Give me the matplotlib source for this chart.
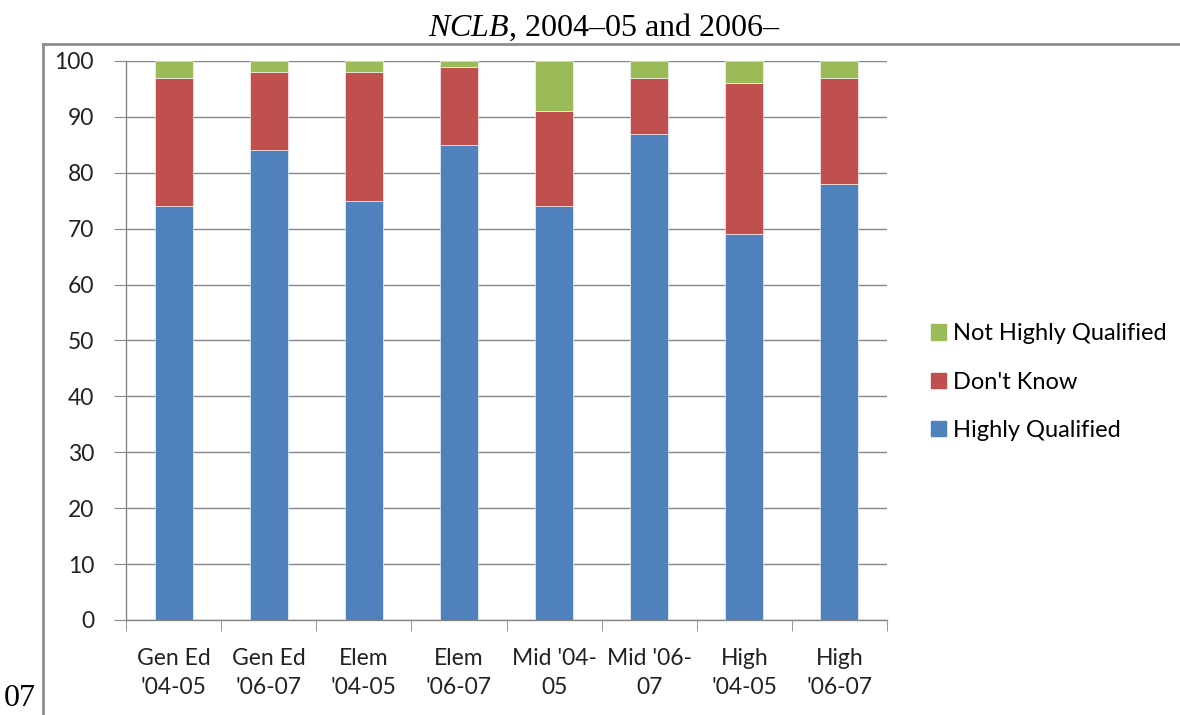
import numpy as np
import matplotlib.pyplot as plt
from matplotlib.lines import Line2D
from matplotlib.patches import Patch

# ================== DATA ==================
categories = ["Gen Ed\n'04-05", "Gen Ed\n'06-07", "Elem\n'04-05", "Elem\n'06-07",
              "Mid '04-\n05", "Mid '06-\n07", "High\n'04-05", "High\n'06-07"]
highly_qualified = [74, 84, 75, 85, 74, 87, 69, 78]
dont_know = [23, 14, 23, 14, 17, 10, 27, 19]
not_highly_qualified = [3, 2, 2, 1, 9, 3, 4, 3]

c_blue = '#4F81BD'
c_red = '#C0504D'
c_green = '#9BBB59'
grid_c = '#868686'

plt.rcParams['font.family'] = ['Lato', 'DejaVu Sans']
plt.rcParams['mathtext.fontset'] = 'custom'
plt.rcParams['mathtext.it'] = 'Liberation Serif:italic'
plt.rcParams['mathtext.rm'] = 'Liberation Serif'

W, H = 1180, 715
fig = plt.figure(figsize=(W / 100, H / 100), dpi=100)

# plot area in pixels: x 126..887, y 61..620
ax = fig.add_axes([126 / W, 1 - 620 / H, (887 - 126) / W, (620 - 61) / H])

x = np.arange(len(categories))
hq = np.array(highly_qualified)
dk = np.array(dont_know)
nq = np.array(not_highly_qualified)
bw = 0.4
ax.bar(x, hq, bw, color=c_blue, edgecolor='white', linewidth=0.4, zorder=3)
ax.bar(x, dk, bw, bottom=hq, color=c_red, edgecolor='white', linewidth=0.4, zorder=3)
ax.bar(x, nq, bw, bottom=hq + dk, color=c_green, edgecolor='white', linewidth=0.4, zorder=3)

ax.set_xlim(-0.5, len(categories) - 0.5)
ax.set_ylim(0, 100)
ax.set_yticks(np.arange(0, 101, 10))
ax.yaxis.grid(True, color=grid_c, linewidth=1, zorder=0)
ax.set_axisbelow(True)

for s in ['top', 'right']:
    ax.spines[s].set_visible(False)
for s in ['left', 'bottom']:
    ax.spines[s].set_color(grid_c)
    ax.spines[s].set_linewidth(1)

ax.set_xticks(x)
ax.set_xticklabels(categories, fontsize=16.5, color='#222222', linespacing=1.5)
ax.set_xticks(np.arange(-0.5, len(categories), 1), minor=True)
ax.tick_params(axis='x', which='major', length=0, pad=20)
ax.tick_params(axis='x', which='minor', length=8, color=grid_c, direction='out')
ax.tick_params(axis='y', length=9, color=grid_c, labelsize=16.5, labelcolor='#222222', pad=14)

handles = [Patch(color=c_green), Patch(color=c_red), Patch(color=c_blue)]
labels = ['Not Highly Qualified', "Don't Know", 'Highly Qualified']
fig.legend(handles, labels, loc='center left', bbox_to_anchor=(922 / W, 1 - 382 / H),
           frameon=False, fontsize=17, handlelength=0.62, handleheight=0.62,
           handletextpad=0.3, labelspacing=1.15, borderaxespad=0)

# outer frame and surrounding document text
fig.add_artist(Line2D([43 / W, 1.0], [1 - 44 / H, 1 - 44 / H], color='#8c8c8c', linewidth=2))
fig.add_artist(Line2D([43 / W, 43 / W], [1 - 44 / H, 0.0], color='#8c8c8c', linewidth=2))
fig.text(604 / W, 1 - 27 / H, r"$\mathit{NCLB}$, 2004–05 and 2006–", ha='center', va='center',
         fontsize=23, family='Liberation Serif')
fig.text(4 / W, 2 / H, "07", ha='left', va='bottom', fontsize=23, family='Liberation Serif')

fig.savefig('out.png', dpi=100)
